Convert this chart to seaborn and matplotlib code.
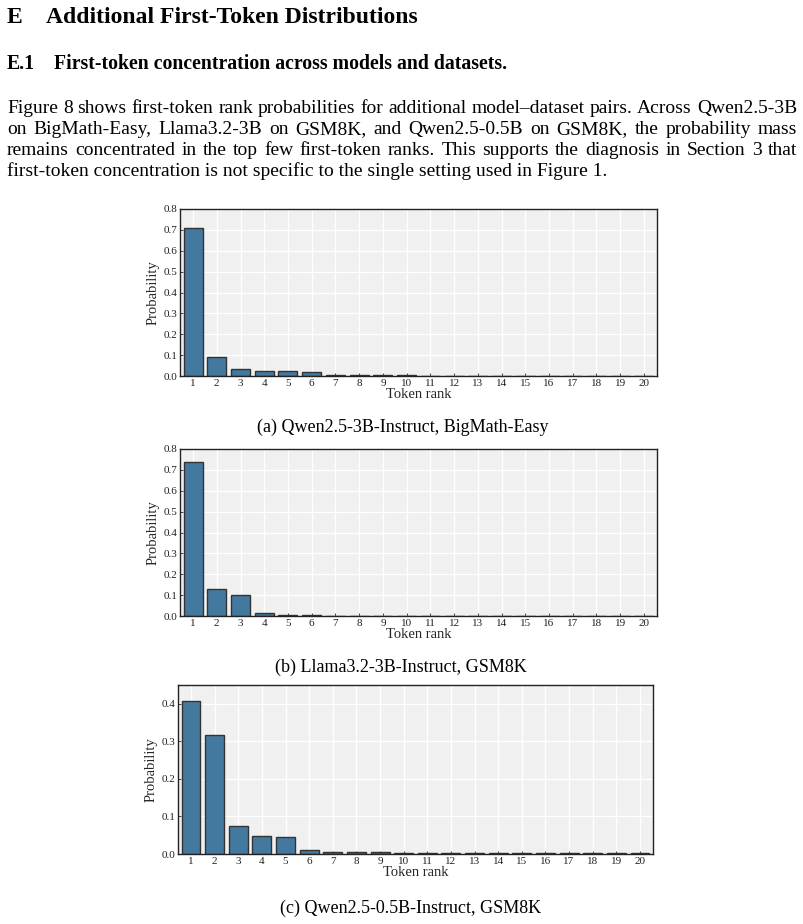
import numpy as np
import pandas as pd
import matplotlib
matplotlib.use("Agg")
import matplotlib.pyplot as plt
import seaborn as sns

# ---- data ----
ranks = list(range(1, 21))
probs_qwen3b_bigmath = [0.710, 0.092, 0.035, 0.022, 0.022, 0.017, 0.006, 0.005, 0.003, 0.003,
                        0.002, 0.002, 0.002, 0.002, 0.002, 0.002, 0.001, 0.001, 0.001, 0.001]
probs_llama3b_gsm8k = [0.740, 0.128, 0.102, 0.012, 0.007, 0.003, 0.002, 0.002, 0.002, 0.002,
                       0.002, 0.002, 0.002, 0.002, 0.002, 0.001, 0.001, 0.001, 0.001, 0.001]
probs_qwen05b_gsm8k = [0.407, 0.318, 0.075, 0.049, 0.044, 0.011, 0.006, 0.006, 0.005, 0.003,
                       0.003, 0.003, 0.003, 0.002, 0.002, 0.002, 0.002, 0.002, 0.002, 0.002]

captions = ["(a) Qwen2.5-3B-Instruct, BigMath-Easy",
            "(b) Llama3.2-3B-Instruct, GSM8K",
            "(c) Qwen2.5-0.5B-Instruct, GSM8K"]

section_no, section_title = "E", "Additional First-Token Distributions"
sub_no, sub_title = "E.1", "First-token concentration across models and datasets."
body_lines = [
    "Figure 8 shows first-token rank probabilities for additional model\u2013dataset pairs. Across Qwen2.5-3B",
    "on BigMath-Easy, Llama3.2-3B on GSM8K, and Qwen2.5-0.5B on GSM8K, the probability mass",
    "remains concentrated in the top few first-token ranks. This supports the diagnosis in Section 3 that",
    "first-token concentration is not specific to the single setting used in Figure 1.",
]

BAR = "#44799f"
EDGE = "#333333"

sns.set_theme(style="darkgrid", rc={"axes.facecolor": "#f0f0f0",
                                    "grid.color": "white",
                                    "grid.linewidth": 1.0})
plt.rcParams["font.family"] = ["Liberation Serif", "DejaVu Serif"]

W, H = 804, 924
fig = plt.figure(figsize=(W / 100, H / 100), dpi=100)
fig.patch.set_facecolor("white")


def px_axes(left, top, right, bottom):
    return fig.add_axes([left / W, 1 - bottom / H, (right - left) / W, (bottom - top) / H])


def put_text(x, y, s, ha="left", **kw):
    # y is the baseline, in pixels from the top
    return fig.text(x / W, 1 - y / H, s, va="baseline", ha=ha, color="black", **kw)


def put_justified(line, x0, x1, y, size):
    words = line.split()
    texts = [put_text(0, y, w, fontsize=size) for w in words]
    r = fig.canvas.get_renderer()
    widths = [t.get_window_extent(r).width for t in texts]
    gap = (x1 - x0 - sum(widths)) / (len(words) - 1)
    x = x0
    for t, w in zip(texts, widths):
        t.set_position((x / W, 1 - y / H))
        x += w + gap


# headers
put_text(7, 23, section_no, fontsize=17, fontweight="bold")
put_text(46, 23, section_title, fontsize=17, fontweight="bold")
put_text(7, 69, sub_no, fontsize=14.2, fontweight="bold")
put_text(54, 69, sub_title, fontsize=14.2, fontweight="bold")

# paragraph
body_size = 14
line_y = [113, 134, 155, 176]
for i, (ln, y) in enumerate(zip(body_lines, line_y)):
    if i < len(body_lines) - 1:
        put_justified(ln, 7, 797, y, body_size)
    else:
        put_text(7, y, ln, fontsize=body_size)

# panels: values, axes box (left, top, right, bottom px), ymax, caption (x, baseline)
panels = [
    (probs_qwen3b_bigmath, (180, 209, 657, 376), 0.8, (403, 432)),
    (probs_llama3b_gsm8k, (180, 449, 657, 616), 0.8, (401, 672)),
    (probs_qwen05b_gsm8k, (178, 685, 653, 854), 0.45, (411, 913)),
]

for (vals, box, ymax, cap_pos), cap in zip(panels, captions):
    ax = px_axes(*box)
    df = pd.DataFrame({"Token rank": ranks, "Probability": vals})
    sns.barplot(data=df, x="Token rank", y="Probability", color=BAR, saturation=1,
                edgecolor=EDGE, linewidth=1.0, width=0.8, ax=ax)
    ax.set_xlim(-0.55, 19.55)
    ax.set_ylim(0, ymax)
    yt = np.arange(0, ymax + 1e-9, 0.1)
    ax.set_yticks(yt)
    ax.set_yticklabels([f"{v:.1f}" for v in yt])
    ax.set_axisbelow(True)
    ax.grid(True, color="white", linewidth=1.0)
    ax.tick_params(bottom=True, left=True, direction="in", length=2, width=0.6,
                   labelsize=8, pad=2, colors="#222222", labelcolor="#222222")
    for sp in ax.spines.values():
        sp.set_color("#222222")
        sp.set_linewidth(1.0)
    ax.set_xlabel("Token rank", fontsize=10.5, labelpad=0)
    ax.set_ylabel("Probability", fontsize=10.5, labelpad=3)
    put_text(cap_pos[0], cap_pos[1], cap, ha="center", fontsize=13)

fig.savefig("out.png", dpi=100, facecolor="white")
